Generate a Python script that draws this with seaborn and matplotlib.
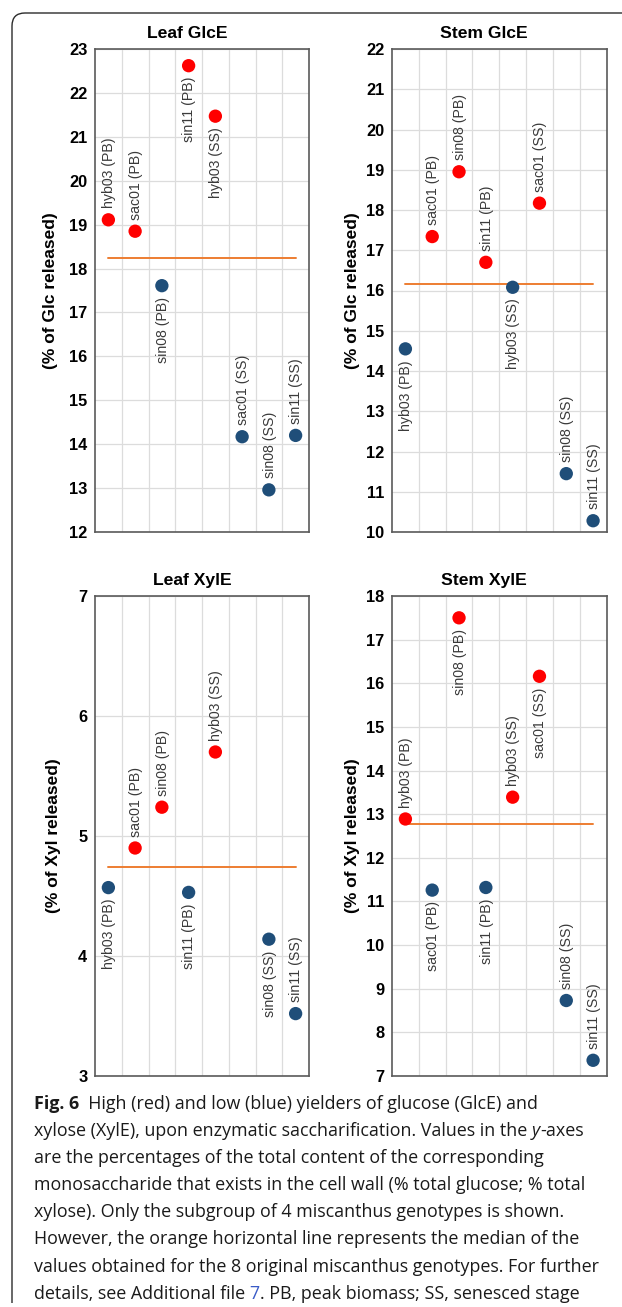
import numpy as np
import pandas as pd
import matplotlib
matplotlib.use("Agg")
import matplotlib.pyplot as plt
import seaborn as sns
from matplotlib.path import Path
from matplotlib.patches import PathPatch
from matplotlib.textpath import TextPath
from matplotlib.font_manager import FontProperties

# ---------------- data ----------------
genotypes = ["hyb03 (PB)", "sac01 (PB)", "sin08 (PB)", "sin11 (PB)",
             "hyb03 (SS)", "sac01 (SS)", "sin08 (SS)", "sin11 (SS)"]

leaf_glce = [19.11, 18.85, 17.61, 22.62, 21.47, 14.17, 12.96, 14.20]
leaf_glce_group = ["high", "high", "low", "high", "high", "low", "low", "low"]
leaf_glce_median = 18.23

stem_glce = [14.55, 17.34, 18.95, 16.70, 16.08, 18.17, 11.45, 10.28]
stem_glce_group = ["low", "high", "high", "high", "low", "high", "low", "low"]
stem_glce_median = 16.16

leaf_xyle = [4.57, 4.90, 5.24, 4.53, 5.70, np.nan, 4.14, 3.52]
leaf_xyle_group = ["low", "high", "high", "low", "high", "low", "low", "low"]
leaf_xyle_median = 4.74

stem_xyle = [12.89, 11.26, 17.50, 11.32, 13.39, 16.16, 8.73, 7.36]
stem_xyle_group = ["high", "low", "high", "low", "high", "high", "low", "low"]
stem_xyle_median = 12.78

titles = ["Leaf GlcE", "Stem GlcE", "Leaf XylE", "Stem XylE"]
ylabels = ["(% of Glc released)", "(% of Glc released)",
           "(% of Xyl released)", "(% of Xyl released)"]
y_limits = [(12, 23), (10, 22), (3, 7), (7, 18)]

# label side (layout): +1 label above the point, -1 below
leaf_glce_side = [1, 1, -1, -1, -1, 1, 1, 1]
stem_glce_side = [-1, 1, 1, 1, -1, 1, 1, 1]
leaf_xyle_side = [-1, 1, 1, -1, 1, 1, -1, 1]
stem_xyle_side = [1, -1, -1, -1, 1, -1, 1, 1]

# ---------------- style ----------------
W, H, DPI = 622, 1307, 100
sns.set_theme(style="whitegrid")
plt.rcParams["font.family"] = ["Liberation Sans", "DejaVu Sans"]

palette = {"high": "#ff0000", "low": "#1f4e79"}
median_color = "#ed7d31"

fig = plt.figure(figsize=(W / DPI, H / DPI), dpi=DPI)
fig.patch.set_facecolor("white")


def px_axes(left, right, top, bottom):
    return fig.add_axes([left / W, 1 - bottom / H, (right - left) / W, (bottom - top) / H])


boxes = [(95, 309, 49, 532), (392, 606.5, 49, 532),
         (95, 309, 596, 1076), (392, 606.5, 596, 1076)]
title_x = [0.43, 0.43, 0.453, 0.43]
ylabel_base_px = [55, 357, 58, 357]

panels = [
    (leaf_glce, leaf_glce_group, leaf_glce_median, leaf_glce_side),
    (stem_glce, stem_glce_group, stem_glce_median, stem_glce_side),
    (leaf_xyle, leaf_xyle_group, leaf_xyle_median, leaf_xyle_side),
    (stem_xyle, stem_xyle_group, stem_xyle_median, stem_xyle_side),
]

for i, (vals, grp, med, side) in enumerate(panels):
    l, r, t, b = boxes[i]
    ax = px_axes(l, r, t, b)
    df = pd.DataFrame({"pos": np.arange(len(genotypes)), "genotype": genotypes,
                       "value": vals, "group": grp})
    # median line (from first to last category)
    ax.plot([df["pos"].iloc[0], df["pos"].iloc[-1]], [med, med],
            color=median_color, lw=1.4, zorder=2)
    sns.scatterplot(data=df.dropna(), x="pos", y="value", hue="group",
                    palette=palette, s=92, edgecolor="none", legend=False,
                    ax=ax, zorder=3)
    for _, row in df.dropna().iterrows():
        sd = side[int(row["pos"])]
        ax.annotate(row["genotype"], xy=(row["pos"], row["value"]),
                    xytext=(0.6, 8.2 * sd), textcoords="offset points",
                    rotation=90, ha="center", va="bottom" if sd > 0 else "top",
                    fontsize=10.2, color="#3a3a3a", zorder=4)
    lo, hi = y_limits[i]
    ax.set_ylim(lo, hi)
    ax.set_xlim(-0.5, len(genotypes) - 0.5)
    ax.set_yticks(np.arange(lo, hi + 1, 1))
    ax.set_xticks(np.arange(0.5, len(genotypes) - 0.5, 1))
    ax.set_xticklabels([])
    ax.set_xlabel("")
    ax.set_ylabel("")
    ax.grid(True, color="#dcdcdc", lw=0.9)
    ax.tick_params(axis="both", length=0, pad=5.5)
    for lab in ax.get_yticklabels():
        lab.set_fontweight("bold")
        lab.set_fontsize(11.8)
        lab.set_color("black")
    for sp in ax.spines.values():
        sp.set_visible(True)
        sp.set_color("#5a5a5a")
        sp.set_linewidth(1.2)
    axh = b - t
    ax.text(title_x[i], 1 + 15.5 / axh, titles[i], transform=ax.transAxes,
            ha="center", va="center", fontsize=12.6, fontweight="bold", color="black")
    ax.text((ylabel_base_px[i] - l) / (r - l), 0.5, ylabels[i], transform=ax.transAxes,
            rotation=90, rotation_mode="anchor", ha="center", va="baseline",
            fontsize=12.5, fontweight="bold", color="black")

# ---------------- frame ----------------
verts = [(12, 1303), (12, 26), (12, 13), (25, 13), (622, 13)]
codes = [Path.MOVETO, Path.LINETO, Path.CURVE3, Path.CURVE3, Path.LINETO]
verts_f = [(x / W, 1 - y / H) for x, y in verts]
fig.add_artist(PathPatch(Path(verts_f, codes), fill=False, edgecolor="#2b2b2b",
                         lw=1.0, transform=fig.transFigure))

# ---------------- caption ----------------
cap_font = "Open Sans"
fp = FontProperties(family=cap_font, size=10)
ref_line = "values obtained for the 8 original miscanthus genotypes. For further"
w10 = TextPath((0, 0), ref_line, prop=fp).get_extents().width
cap_size = 10 * (567 * 72 / DPI) / w10

lines = [
    [("Fig. 6", "bold"), ("  High (red) and low (blue) yielders of glucose (GlcE) and", "normal")],
    [("xylose (XylE), upon enzymatic saccharification. Values in the ", "normal"),
     ("y", "italic"), ("-axes", "normal")],
    [("are the percentages of the total content of the corresponding", "normal")],
    [("monosaccharide that exists in the cell wall (% total glucose; % total", "normal")],
    [("xylose). Only the subgroup of 4 miscanthus genotypes is shown.", "normal")],
    [("However, the orange horizontal line represents the median of the", "normal")],
    [("values obtained for the 8 original miscanthus genotypes. For further", "normal")],
    [("details, see Additional file ", "normal"), ("7", "link"),
     (". PB, peak biomass; SS, senesced stage", "normal")],
]

bg = fig.add_axes([0, 0, 1, 1], zorder=-1)
bg.set_axis_off()
y0 = 1104
dy = 27.1
for k, pieces in enumerate(lines):
    yc = y0 + k * dy
    prev = None
    for txt, kind in pieces:
        kw = dict(fontsize=cap_size, family=cap_font, color="#1a1a1a")
        if kind == "bold":
            kw["fontweight"] = "bold"
        elif kind == "italic":
            kw["fontstyle"] = "italic"
        elif kind == "link":
            kw["color"] = "#3a5bc7"
        if prev is None:
            prev = bg.text(34 / W, 1 - yc / H, txt, transform=bg.transAxes,
                           ha="left", va="center", **kw)
        else:
            prev = bg.annotate(txt, xy=(1, 0), xycoords=prev, ha="left", va="bottom", **kw)

fig.savefig("out.png", dpi=DPI, facecolor="white")
